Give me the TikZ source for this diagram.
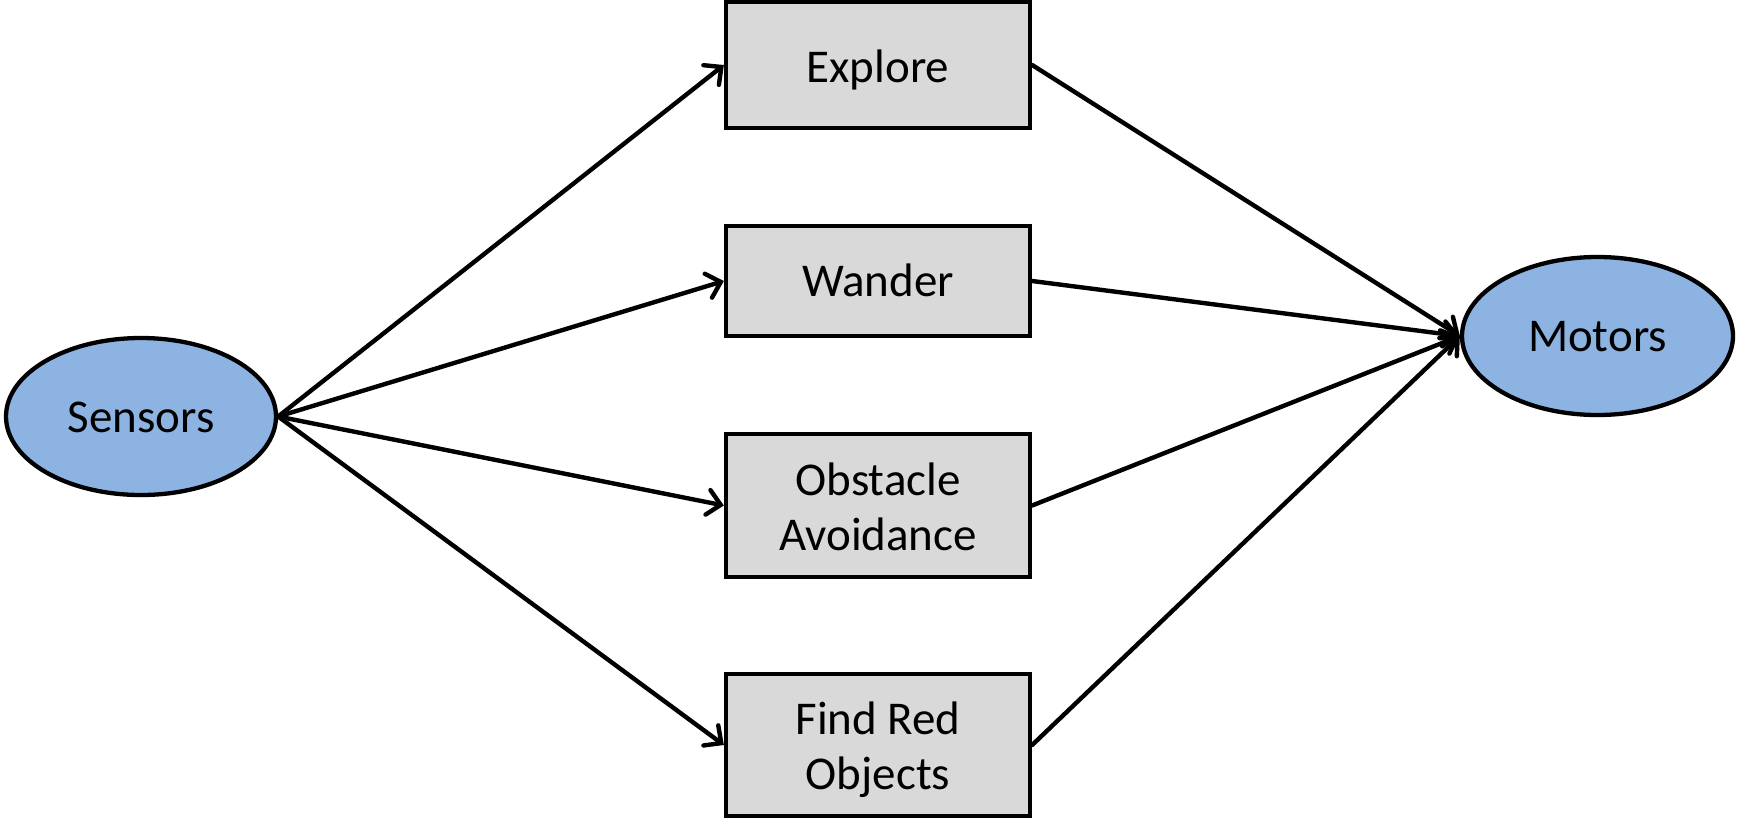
\documentclass[tikz,border=0pt]{standalone}
\usepackage{fontspec}
\setmainfont{Carlito}
\usetikzlibrary{shapes.geometric,arrows.meta}
\definecolor{ellblue}{HTML}{8DB3E2}
\definecolor{boxgray}{HTML}{D9D9D9}
\newcommand\oneline[2][15.5pt]{\raisebox{-#1}[0pt][0pt]{#2}}
\newcommand\twolines[4]{\raisebox{#4}[0pt][0pt]{\begin{tabular}[t]{@{}c@{}}#1\\[#3]#2\end{tabular}}}
\begin{document}
\begin{tikzpicture}[x=1pt,y=-1pt,
  txt/.style={font=\fontsize{47}{53}\selectfont},
  box/.style={txt, draw=black, line width=4.3pt, fill=boxgray, minimum width=304pt, inner sep=0pt, align=center},
  ell/.style={txt, ellipse, draw=black, line width=4.3pt, fill=ellblue, inner sep=0pt},
  conn/.style={line width=4.4pt, line cap=round, -{Straight Barb[length=13pt,width=25pt,line cap=round]}}]
\useasboundingbox (0,0) rectangle (1737,820);
\node[ell, minimum width=270pt, minimum height=157pt] (sen) at (141,416.5) {\oneline{Sensors}};
\node[ell, minimum width=271pt, minimum height=158pt] (mot) at (1597.5,336) {\oneline{Motors}};
\node[box, minimum height=126pt] (exp) at (878,65) {\oneline[17.5pt]{Explore}};
\node[box, minimum height=110pt] (wan) at (878,281) {\oneline{Wander}};
\node[box, minimum height=143pt] (obs) at (878,505.5) {\twolines{Obstacle}{Avoidance}{2.7pt}{10.5pt}};
\node[box, minimum height=142pt] (fro) at (878,745) {\twolines{Find Red}{Objects}{2.7pt}{11pt}};
\foreach \b in {exp,wan,obs,fro}{
  \draw[conn] (sen.east) -- (\b.west);
  \draw[conn] (\b.east) -- (mot.west);
}
\end{tikzpicture}
\end{document}
